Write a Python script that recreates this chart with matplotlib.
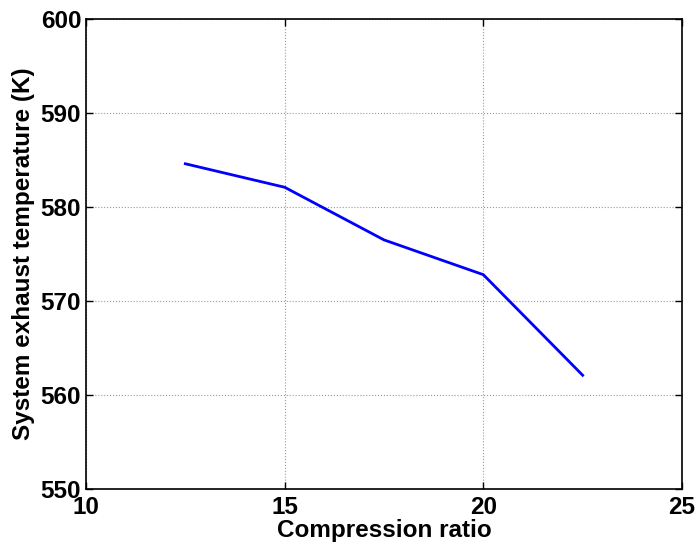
import matplotlib
matplotlib.use("Agg")
import matplotlib.pyplot as plt

compression_ratio = [12.5, 15, 17.5, 20, 22.5]
exhaust_temp = [584.6, 582.1, 576.5, 572.8, 562.1]
x_ticks = [10, 15, 20, 25]
y_ticks = [550, 560, 570, 580, 590, 600]

plt.rcParams['font.family'] = ['Liberation Sans', 'DejaVu Sans']
plt.rcParams['font.weight'] = 'bold'

fig = plt.figure(figsize=(7.0, 5.51), dpi=100)
ax = fig.add_axes([86/700, 1-489/551, (682-86)/700, (489-19)/551])
ax.plot(compression_ratio, exhaust_temp, color='#0000ff', linewidth=2)
ax.set_xlim(10, 25)
ax.set_ylim(550, 600)
ax.set_xticks(x_ticks)
ax.set_yticks(y_ticks)
ax.grid(True, color='#999999', linestyle=':', linewidth=0.8)
ax.tick_params(direction='in', top=True, right=True, labelsize=17.5, length=5, width=1)
ax.tick_params(axis='x', pad=5)
ax.tick_params(axis='y', pad=3.5)
for lab in ax.get_xticklabels() + ax.get_yticklabels():
    lab.set_fontweight('bold')
for s in ax.spines.values():
    s.set_linewidth(1.2)
ax.set_xlabel('Compression ratio', fontsize=17.5, fontweight='bold', labelpad=0)
ax.set_ylabel('System exhaust temperature (K)', fontsize=17.5, fontweight='bold', labelpad=4)
fig.savefig('out.png', dpi=100)
